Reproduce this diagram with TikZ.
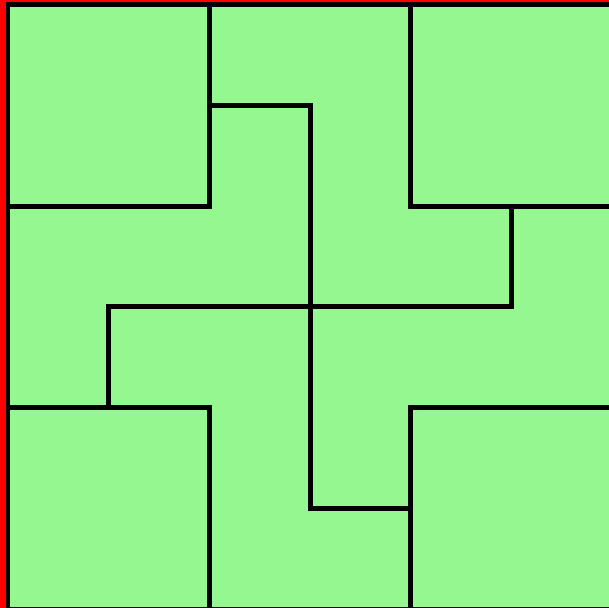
\documentclass[tikz,border=0pt]{standalone}
\usepackage{xcolor}
\usetikzlibrary{calc}
\definecolor{tilegreen}{RGB}{148,247,143}
\tikzset{
  edge/.style={line width=2.8pt,black,line join=miter},
}
\begin{document}
\begin{tikzpicture}
\def\cell{2.014}
\coordinate (SW) at (0,-12.16);
\coordinate (NE) at (12.18,0);
\useasboundingbox (SW) rectangle (NE);
\clip (SW) rectangle (NE);
\fill[red] (SW) rectangle (NE);

\begin{scope}[x=\cell cm,y=-\cell cm,shift={(0.16cm,-0.096cm)}]
\coordinate (O) at (0,0);
\coordinate (E) at (6,6);
\coordinate (C) at (3,3);
\fill[tilegreen] (O) rectangle (E);
% one corner square and one arm, turned four times round the centre
\foreach \a in {0,90,180,270}{
  \begin{scope}[rotate around={\a:(C)}]
    \draw[edge] (0,2) -- (2,2) -- (2,0);
    \draw[edge] (2,1) -- (3,1) -- (C);
  \end{scope}
}
\draw[edge] (O) rectangle (E);
\end{scope}
\end{tikzpicture}
\end{document}
